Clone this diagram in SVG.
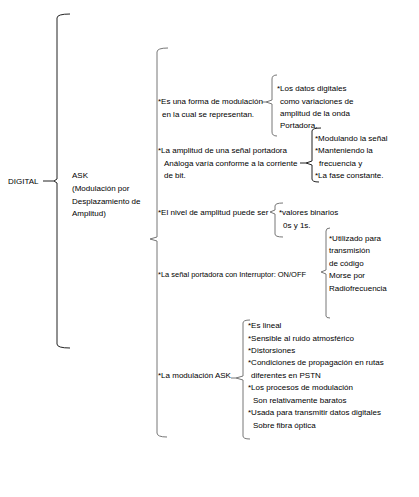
<svg xmlns="http://www.w3.org/2000/svg" width="419" height="497" viewBox="0 0 419 497">
<style>
text{font-family:"Liberation Sans",Arial,sans-serif;font-size:8px;fill:#000}
.b{fill:none;stroke:#222;stroke-width:1}
.g{fill:none;stroke:#777;stroke-width:1}
</style>
<rect width="419" height="497" fill="#fff"/>
<g id="connectors">
<path class="b" d="M70,14 Q57,14 57,18 L57,179 L54,181 L57,183 L57,344 Q57,348 70,348"/>
<path class="b" d="M43,181 L54,181"/>
<path class="g" d="M168,48 Q157,48 157,52 L157,237 L150,239 L157,241 L157,433 Q157,437 167,437"/>
<path class="g" d="M277,75 Q272,75 272,79 L272,100 L266,102 L272,104 L272,132 Q272,136 277,136"/>
<path class="g" d="M262,102 L266,102"/>
<path class="b" d="M321,128 Q312,128 312,131 L312,161 L306,163 L312,165 L312,179 Q312,182 319,182"/>
<path class="b" d="M300,163 L306,163"/>
<path class="g" d="M283,203 Q275,203 275,206 L275,210 L270,212 L275,214 L275,234 Q275,237 283,237"/>
<path class="g" d="M330,228 Q326,228 326,231 L326,270 L321,272 L326,274 L326,316 Q326,318 330,318"/>
<path class="g" d="M250,320 Q243,320 243,323 L243,376 L236,378 L243,380 L243,436 Q243,439 250,439"/>
<path class="g" d="M231,378 L236,378"/>
</g>
<g id="digital"><text x="8" y="184">DIGITAL</text></g>
<g id="ask">
<text x="72" y="178">ASK</text>
<text x="72" y="191">(Modulación por</text>
<text x="72" y="204">Desplazamiento de</text>
<text x="72" y="216">Amplitud)</text>
</g>
<g id="n1">
<text x="158" y="104">*Es una forma de modulación</text>
<text x="162" y="117">en la cual se representan.</text>
</g>
<g id="n1a">
<text x="277" y="91">*Los datos digitales</text>
<text x="280" y="104">como variaciones de</text>
<text x="280" y="116">amplitud de la onda</text>
<text x="280" y="128">Portadora.</text>
</g>
<g id="n2">
<text x="158" y="153">*La amplitud de una señal portadora</text>
<text x="164" y="166">Análoga varía conforme a la corriente</text>
<text x="164" y="178">de bit.</text>
</g>
<g id="n2a">
<text x="315" y="141">*Modulando la señal</text>
<text x="315" y="153">*Manteniendo la</text>
<text x="319" y="166">frecuencia y</text>
<text x="315" y="178">*La fase constante.</text>
</g>
<g id="n3"><text x="158" y="215">*El nivel de amplitud puede ser</text></g>
<g id="n3a">
<text x="279" y="215">*valores binarios</text>
<text x="283" y="228">0s y 1s.</text>
</g>
<g id="n4"><text x="158" y="277" textLength="148" lengthAdjust="spacingAndGlyphs">*La señal portadora con Interruptor: ON/OFF</text></g>
<g id="n4a">
<text x="329" y="241">*Utilizado para</text>
<text x="329" y="253">transmisión</text>
<text x="329" y="266">de código</text>
<text x="329" y="278">Morse por</text>
<text x="329" y="291">Radiofrecuencia</text>
</g>
<g id="n5"><text x="158" y="378">*La modulación ASK</text></g>
<g id="n5a">
<text x="248" y="328">*Es lineal</text>
<text x="248" y="341">*Sensible al ruido atmosférico</text>
<text x="248" y="353">*Distorsiones</text>
<text x="248" y="365">*Condiciones de propagación en rutas</text>
<text x="251" y="378">diferentes en PSTN</text>
<text x="248" y="390">*Los procesos de modulación</text>
<text x="253" y="403">Son relativamente baratos</text>
<text x="248" y="415">*Usada para transmitir datos digitales</text>
<text x="253" y="428">Sobre fibra óptica</text>
</g>
</svg>
